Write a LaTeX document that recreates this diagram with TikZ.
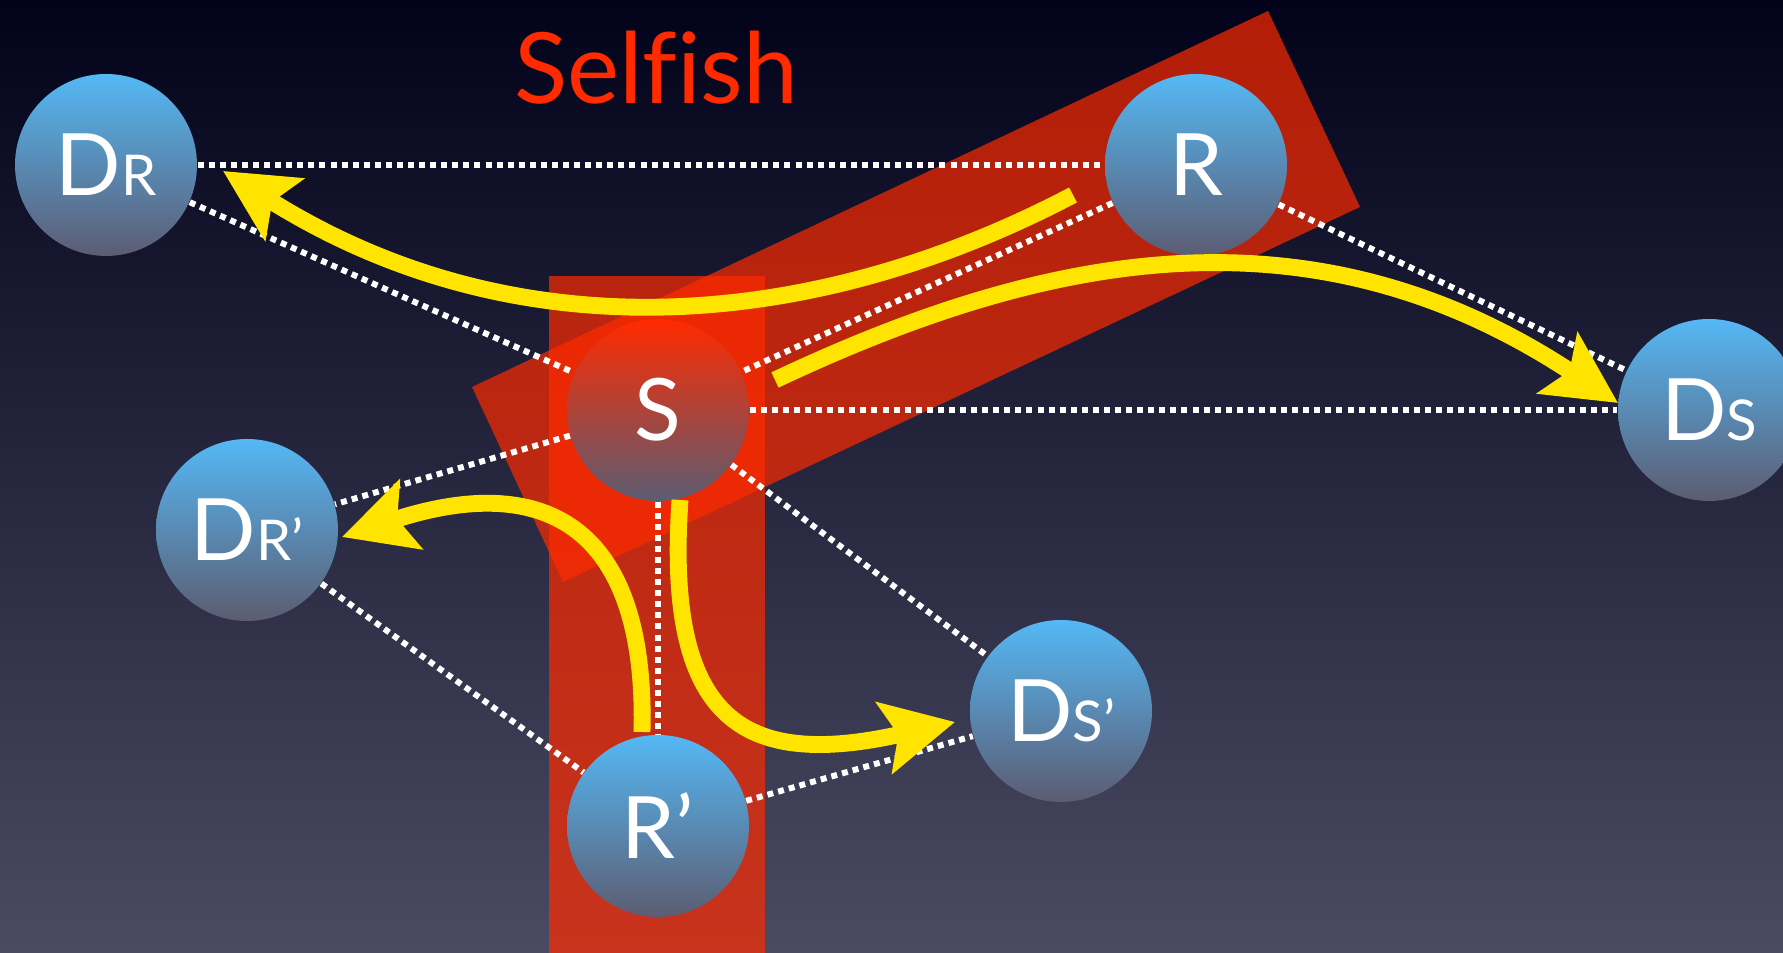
\documentclass[tikz,border=0pt]{standalone}
\usepackage{fontspec}
\setsansfont{Lato}[Ligatures=NoCommon]
\usetikzlibrary{arrows.meta}
\definecolor{cbgtop}{HTML}{02021A}
\definecolor{cbgbot}{HTML}{4A4A62}
\definecolor{cblue}{HTML}{55B8F5}
\definecolor{cslate}{HTML}{5C5C72}
\definecolor{cred}{HTML}{FF2A00}
\definecolor{cyellow}{HTML}{FFE400}
\newcommand{\peerlbl}[2]{#1{\fontsize{16pt}{16pt}\selectfont #2}}
\tikzset{
  every picture/.style={font=\sffamily},
  peer/.style={circle, minimum size=1.82cm, inner sep=0pt, top color=#1, bottom color=cslate,
    text=white, font=\sffamily\fontsize{24.5pt}{24.5pt}\selectfont},
  peer/.default=cblue,
  link/.style={draw=white, line width=1.7pt, dash pattern=on 1.7pt off 1.45pt},
  move/.style={draw=cyellow, line width=4.8pt, -{Stealth[length=0.72cm, width=0.72cm, inset=0.14cm]}},
  zone/.style={fill=cred, fill opacity=0.7},
  title/.style={font=\sffamily\fontsize{28pt}{28pt}\selectfont, text=cred},
}

\begin{document}
\begin{tikzpicture}
  \useasboundingbox (0,0) rectangle (17.83,9.53);
  \shade[top color=cbgtop, bottom color=cbgbot] (0,0) rectangle (17.83,9.53);
  % selfish zones
  \fill[zone] (4.72,5.66) -- (12.68,9.42) -- (13.60,7.46) -- (5.63,3.71) -- cycle;
  \fill[zone] (5.49,0) rectangle (7.65,6.77);
  \node[title] (selfish) at (6.56,8.85) {Selfish};
  % peers
  \node[peer] (DR) at (1.06,7.88) {\peerlbl{D}{R}};
  \node[peer] (R) at (11.96,7.88) {R};
  \node[peer=cred] (S) at (6.58,5.43) {S};
  \node[peer] (DS) at (17.09,5.43) {\peerlbl{D}{S}};
  \node[peer] (DRp) at (2.47,4.23) {\peerlbl{D}{R’}};
  \node[peer] (Rp) at (6.58,1.27) {R’};
  \node[peer] (DSp) at (10.61,2.42) {\peerlbl{D}{S’}};
  % links
  \draw[link] (DR) -- (R);
  \draw[link] (DR) -- (S);
  \draw[link] (R) -- (S);
  \draw[link] (R) -- (DS);
  \draw[link] (S) -- (DS);
  \draw[link] (S) -- (DRp);
  \draw[link] (S) -- (DSp);
  \draw[link] (S) -- (Rp);
  \draw[link] (DRp) -- (Rp);
  \draw[link] (Rp) -- (DSp);
  % moves
  \coordinate (m1s) at (10.73,7.58);
  \coordinate (m1e) at (2.23,7.82);
  \coordinate (m2s) at (7.75,5.73);
  \coordinate (m2e) at (16.18,5.50);
  \coordinate (m3s) at (6.42,2.21);
  \coordinate (m3e) at (3.42,4.16);
  \coordinate (m4s) at (6.80,4.53);
  \coordinate (m4e) at (9.55,2.31);
  \draw[move] (m1s) .. controls (8.16,6.23) and (5.20,5.96) .. (m1e);
  \draw[move] (m2s) .. controls (10.46,7.01) and (13.11,7.53) .. (m2e);
  \draw[move] (m3s) .. controls (6.47,4.21) and (5.50,4.84) .. (m3e);
  \draw[move] (m4s) .. controls (6.65,2.33) and (7.42,1.83) .. (m4e);
\end{tikzpicture}
\end{document}
